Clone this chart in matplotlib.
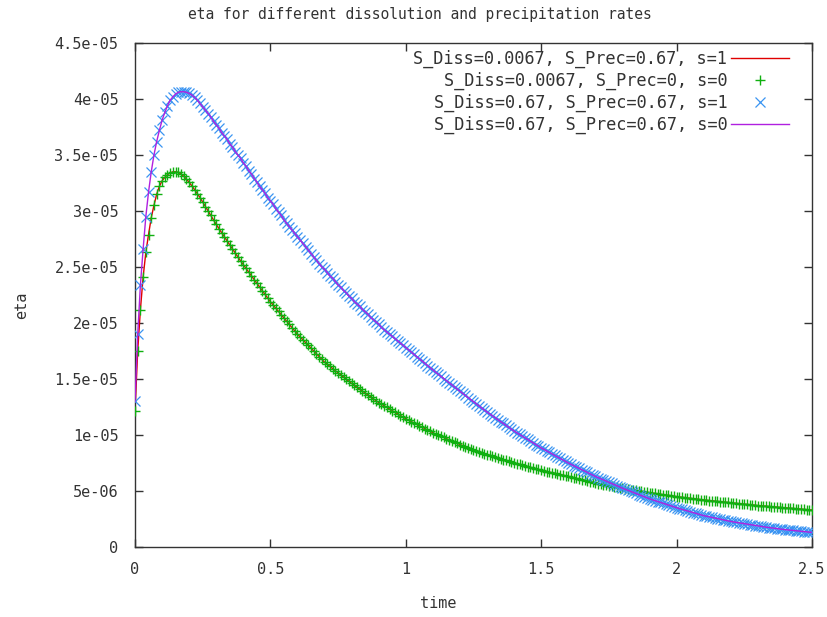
import matplotlib
matplotlib.use("Agg")
import matplotlib.pyplot as plt
import numpy as np

# ---------------- data (eta in units of 1e-5) ----------------
time = [round(i * 0.01, 2) for i in range(251)]

eta_high = [  # S_Diss=0.67 curves (blue x / magenta line)
    1.30, 1.90, 2.34, 2.66, 2.95, 3.17, 3.35, 3.50, 3.62, 3.72,
    3.81, 3.88, 3.94, 3.99, 4.02, 4.045, 4.06, 4.065, 4.065, 4.06,
    4.05, 4.035, 4.015, 3.99, 3.96, 3.93, 3.90, 3.87, 3.84, 3.80,
    3.77, 3.74, 3.70, 3.67, 3.64, 3.60, 3.57, 3.53, 3.50, 3.47,
    3.43, 3.40, 3.36, 3.33, 3.29, 3.26, 3.22, 3.19, 3.16, 3.12,
    3.09, 3.06, 3.02, 2.99, 2.96, 2.92, 2.89, 2.86, 2.83, 2.80,
    2.77, 2.74, 2.71, 2.68, 2.65, 2.62, 2.59, 2.56, 2.53, 2.50,
    2.48, 2.45, 2.42, 2.40, 2.37, 2.34, 2.32, 2.29, 2.27, 2.24,
    2.22, 2.19, 2.17, 2.15, 2.12, 2.10, 2.08, 2.05, 2.03, 2.01,
    1.99, 1.96, 1.94, 1.92, 1.90, 1.88, 1.86, 1.84, 1.82, 1.80,
    1.78, 1.76, 1.74, 1.72, 1.70, 1.68, 1.66, 1.64, 1.62, 1.60,
    1.58, 1.561, 1.542, 1.523, 1.504, 1.485, 1.466, 1.447, 1.428, 1.409,
    1.39, 1.371, 1.353, 1.334, 1.316, 1.297, 1.279, 1.260, 1.242, 1.223,
    1.205, 1.188, 1.171, 1.154, 1.137, 1.120, 1.103, 1.086, 1.069, 1.052,
    1.035, 1.020, 1.005, 0.990, 0.975, 0.960, 0.945, 0.930, 0.915, 0.900,
    0.885, 0.872, 0.858, 0.845, 0.831, 0.818, 0.804, 0.791, 0.777, 0.764,
    0.750, 0.738, 0.726, 0.714, 0.702, 0.690, 0.678, 0.666, 0.654, 0.642,
    0.630, 0.620, 0.609, 0.599, 0.588, 0.578, 0.567, 0.557, 0.546, 0.536,
    0.525, 0.516, 0.506, 0.497, 0.487, 0.478, 0.468, 0.459, 0.449, 0.440,
    0.430, 0.422, 0.414, 0.406, 0.398, 0.390, 0.382, 0.374, 0.366, 0.358,
    0.350, 0.343, 0.336, 0.329, 0.322, 0.315, 0.308, 0.301, 0.294, 0.287,
    0.280, 0.275, 0.270, 0.264, 0.259, 0.254, 0.249, 0.244, 0.238, 0.233,
    0.228, 0.224, 0.220, 0.216, 0.212, 0.208, 0.203, 0.199, 0.195, 0.191,
    0.187, 0.184, 0.181, 0.177, 0.174, 0.171, 0.168, 0.165, 0.161, 0.158,
    0.155, 0.153, 0.150, 0.148, 0.145, 0.143, 0.140, 0.138, 0.135, 0.133,
    0.130,
]

eta_low = [  # S_Diss=0.0067 curves (red line / green +)
    1.21, 1.75, 2.12, 2.41, 2.63, 2.79, 2.94, 3.05, 3.15, 3.22,
    3.27, 3.30, 3.325, 3.34, 3.35, 3.35, 3.345, 3.33, 3.31, 3.285,
    3.255, 3.225, 3.19, 3.155, 3.12, 3.08, 3.04, 3.00, 2.96, 2.92,
    2.88, 2.843, 2.806, 2.77, 2.733, 2.697, 2.661, 2.625, 2.589, 2.554,
    2.52, 2.487, 2.454, 2.421, 2.388, 2.355, 2.322, 2.289, 2.256, 2.223,
    2.19, 2.161, 2.132, 2.103, 2.074, 2.045, 2.016, 1.987, 1.958, 1.929,
    1.90, 1.875, 1.85, 1.825, 1.80, 1.775, 1.75, 1.725, 1.70, 1.675,
    1.65, 1.631, 1.612, 1.593, 1.574, 1.555, 1.536, 1.517, 1.498, 1.479,
    1.46, 1.443, 1.426, 1.409, 1.392, 1.375, 1.358, 1.341, 1.324, 1.307,
    1.29, 1.276, 1.261, 1.247, 1.232, 1.218, 1.203, 1.189, 1.174, 1.160,
    1.145, 1.133, 1.12, 1.108, 1.095, 1.083, 1.07, 1.058, 1.045, 1.033,
    1.02, 1.01, 0.999, 0.989, 0.978, 0.968, 0.957, 0.947, 0.936, 0.926,
    0.915, 0.906, 0.897, 0.888, 0.879, 0.870, 0.861, 0.852, 0.843, 0.834,
    0.825, 0.818, 0.81, 0.803, 0.795, 0.788, 0.78, 0.773, 0.765, 0.758,
    0.75, 0.744, 0.737, 0.731, 0.724, 0.718, 0.711, 0.705, 0.698, 0.692,
    0.685, 0.680, 0.674, 0.669, 0.663, 0.658, 0.652, 0.647, 0.641, 0.636,
    0.63, 0.624, 0.618, 0.612, 0.606, 0.60, 0.594, 0.588, 0.582, 0.576,
    0.57, 0.566, 0.561, 0.557, 0.552, 0.548, 0.543, 0.539, 0.534, 0.530,
    0.525, 0.521, 0.517, 0.513, 0.509, 0.505, 0.501, 0.497, 0.493, 0.489,
    0.485, 0.482, 0.478, 0.475, 0.471, 0.468, 0.464, 0.461, 0.457, 0.454,
    0.45, 0.447, 0.444, 0.441, 0.438, 0.435, 0.432, 0.429, 0.426, 0.423,
    0.42, 0.418, 0.415, 0.413, 0.41, 0.408, 0.405, 0.403, 0.40, 0.398,
    0.395, 0.393, 0.39, 0.388, 0.385, 0.383, 0.38, 0.378, 0.375, 0.373,
    0.37, 0.368, 0.366, 0.364, 0.362, 0.36, 0.358, 0.356, 0.354, 0.352,
    0.35, 0.348, 0.346, 0.344, 0.342, 0.34, 0.338, 0.336, 0.334, 0.332,
    0.33,
]

labels = [
    "S_Diss=0.0067, S_Prec=0.67, s=1",
    "S_Diss=0.0067, S_Prec=0, s=0",
    "S_Diss=0.67, S_Prec=0.67, s=1",
    "S_Diss=0.67, S_Prec=0.67, s=0",
]

xticks = [0, 0.5, 1, 1.5, 2, 2.5]
xticklabels = ["0", "0.5", "1", "1.5", "2", "2.5"]
yticks_e5 = [0, 0.5, 1, 1.5, 2, 2.5, 3, 3.5, 4, 4.5]
yticklabels = ["0", "5e-06", "1e-05", "1.5e-05", "2e-05", "2.5e-05",
               "3e-05", "3.5e-05", "4e-05", "4.5e-05"]

SCALE = 1e-5
t = np.array(time)
lo = np.array(eta_low) * SCALE
hi = np.array(eta_high) * SCALE

# ---------------- plot ----------------
FS_TICK = 11.0
FS_TITLE = 10.5
FS_LEG = 12.2
TXT = "#333333"
plt.rcParams['font.family'] = ['DejaVu Sans Mono']
fig = plt.figure(figsize=(8.28, 6.17), dpi=100)
ax = fig.add_axes([135 / 828, 1 - 547 / 617, (812 - 135) / 828, (547 - 43) / 617])

ax.plot(t, lo, color="#e00000", lw=1.0, label=labels[0], zorder=2)
ax.plot(t, lo, ls="none", marker="+", ms=7.5, mew=1.0, color="#10b010",
        label=labels[1], zorder=3)
ax.plot(t, hi, ls="none", marker="x", ms=6.8, mew=0.9, color="#3a94f2",
        label=labels[2], zorder=4)
ax.plot(t, hi, color="#b020e0", lw=1.0, label=labels[3], zorder=5)

ax.set_xlim(0, 2.5)
ax.set_ylim(0, 4.5e-5)
ax.set_xticks(xticks)
ax.set_xticklabels(xticklabels)
ax.set_yticks([v * SCALE for v in yticks_e5])
ax.set_yticklabels(yticklabels)
ax.tick_params(axis="both", direction="in", length=6, width=1, top=True, right=True,
               labelsize=FS_TICK, colors=TXT, labelcolor=TXT)
ax.tick_params(axis="x", pad=11)
ax.tick_params(axis="y", pad=12)
for sp in ax.spines.values():
    sp.set_linewidth(1.0)
    sp.set_color(TXT)

ax.set_xlabel("time", fontsize=FS_TICK, color=TXT, va="center")
ax.xaxis.set_label_coords((438 - 135) / 677, -(603 - 547) / 504)
ax.set_ylabel("eta", fontsize=FS_TICK, color=TXT, va="center")
ax.yaxis.set_label_coords((22 - 135) / 677, (547 - 305) / 504)
fig.text(420 / 828, 1 - 14 / 617,
         "eta for different dissolution and precipitation rates",
         ha="center", va="center", fontsize=FS_TITLE, color=TXT)

leg = ax.legend(loc="upper right", frameon=False, markerfirst=False,
                fontsize=FS_LEG, handlelength=3.4, handletextpad=0.25,
                labelspacing=0.22, borderaxespad=0.0, borderpad=0.0,
                bbox_to_anchor=((789 - 135) / 677, (547 - 50) / 504))
for txt in leg.get_texts():
    txt.set_ha("right")
    txt.set_color(TXT)
leg._legend_box.align = "right"

fig.savefig("out.png", dpi=100)
